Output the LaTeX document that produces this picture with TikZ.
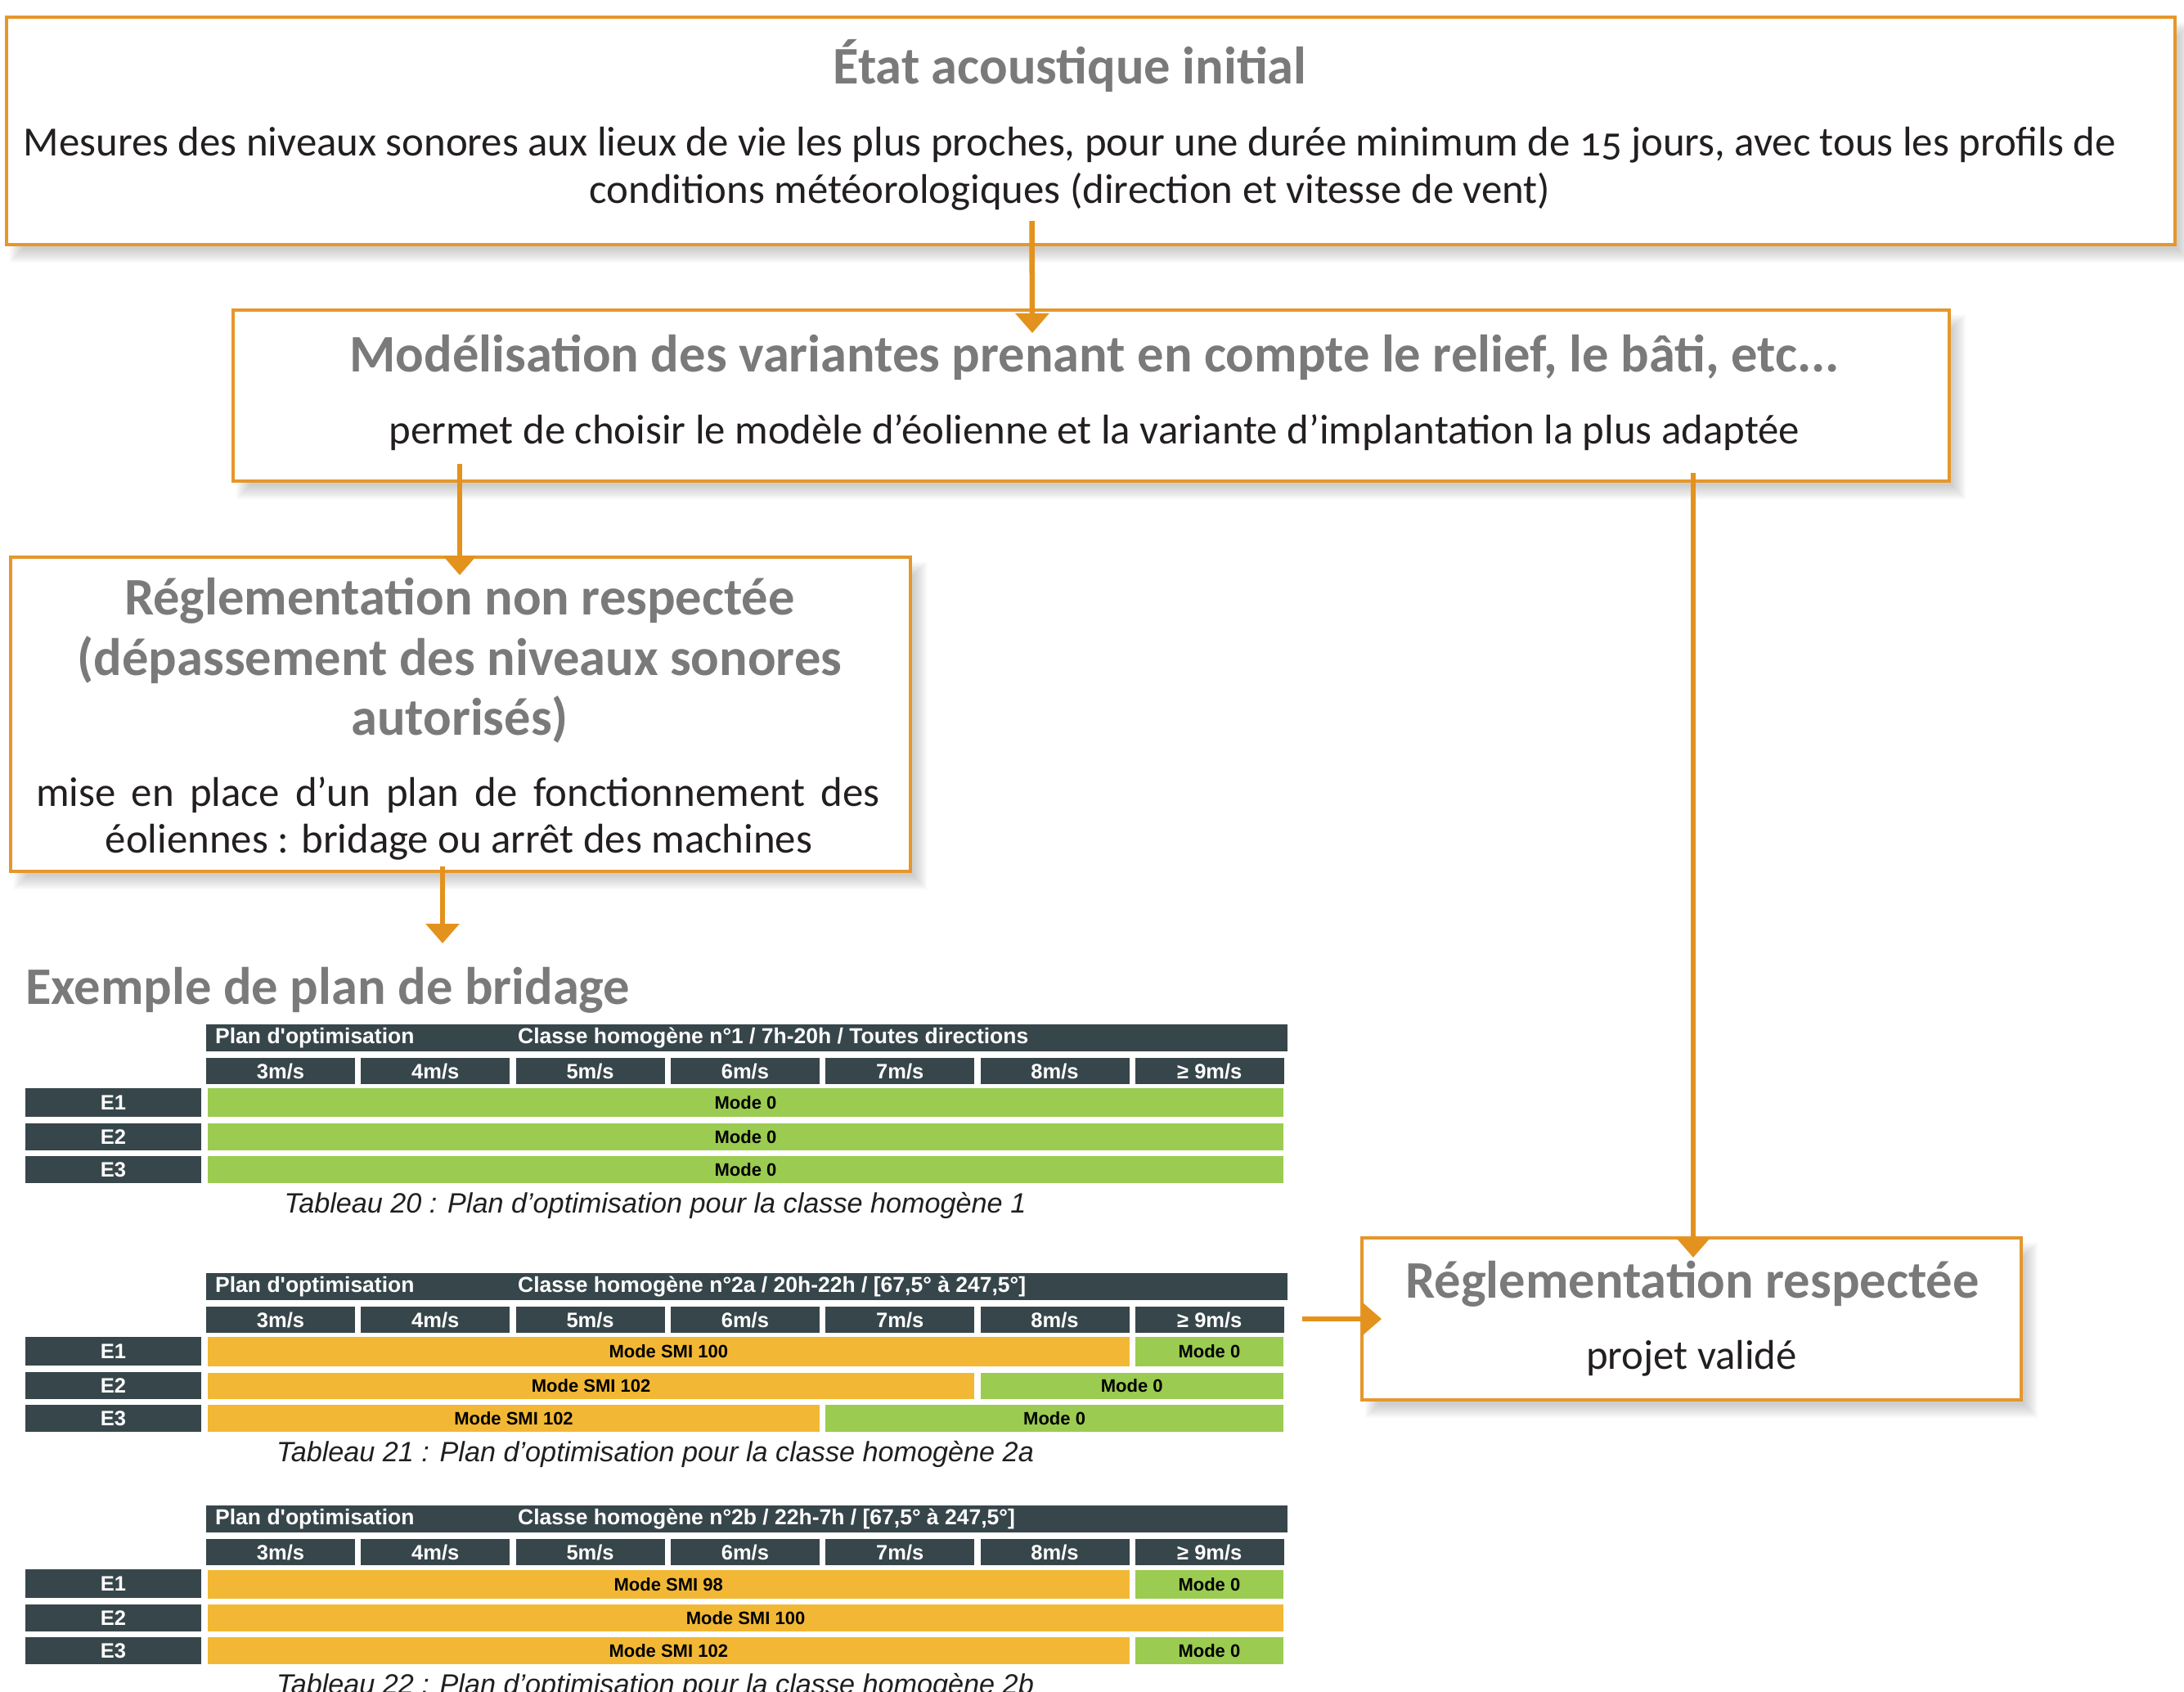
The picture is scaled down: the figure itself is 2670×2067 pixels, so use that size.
\documentclass[tikz,border=0pt]{standalone}
\usepackage{fontspec}
\setmainfont{Carlito}
\newfontfamily\arialf{Liberation Sans}
\usetikzlibrary{arrows.meta,backgrounds,calc}
\definecolor{borange}{HTML}{E5972C}
\definecolor{aorange}{HTML}{E3921E}
\definecolor{tgray}{HTML}{7A7A7A}
\definecolor{btext}{HTML}{231F20}
\definecolor{slate}{HTML}{37464A}
\definecolor{mgreen}{HTML}{9BCB50}
\definecolor{morange}{HTML}{F2B835}

\newcommand\rnode[6]{\node[#1, rectangle, inner sep=0pt, outer sep=0pt, anchor=north west, minimum width={((#4)-(#2))*1pt}, minimum height={((#5)-(#3))*1pt}] (#6) at (#2,#3)}

\newcommand\softshadow[1]{%
 \begin{scope}[on background layer]
 \foreach \k in {-8,-6,...,8}{
  \fill[black, opacity=0.022] ($(#1.north west)+(12+\k,14+\k)$) rectangle ($(#1.south east)+(12-\k,14-\k)$);
 }
 \end{scope}}

\tikzset{
  box/.style={draw=borange, line width=3.5pt, fill=white},
  arr/.style={draw=aorange, line width=6.5pt, -{Triangle[width=40pt,length=24pt]}},
  ttl/.style={text=tgray, inner sep=0pt, font=\fontsize{64.5}{76}\selectfont\bfseries},
  bdy/.style={text=btext, inner sep=0pt, font=\fontsize{50.8}{60}\selectfont},
  slatec/.style={fill=slate, text=white, font=\arialf\bfseries\fontsize{25.5}{30}\selectfont},
  hdrt/.style={text=white, inner sep=0pt, font=\arialf\bfseries\fontsize{26.5}{30}\selectfont},
  greenc/.style={fill=mgreen, text=black, font=\arialf\bfseries\fontsize{22}{26}\selectfont},
  orangec/.style={fill=morange, text=black, font=\arialf\bfseries\fontsize{22}{26}\selectfont},
  capt/.style={inner sep=0pt, text=black!88, font=\arialf\itshape\fontsize{34.2}{40}\selectfont}
}

\newcommand\btable[4]{%
 \rnode{slatec}{252}{#2}{1574}{#2+33}{#1h}{};
 \node[hdrt, anchor=west] (#1hp) at ([xshift=11pt]#1h.west) {Plan d'optimisation};
 \node[hdrt, anchor=west] (#1hc) at ([xshift=381pt]#1h.west) {#3};
 \foreach \i/\spd in {0/3,1/4,2/5,3/6,4/7,5/8}{
   \rnode{slatec}{252+189.3*\i}{#2+41}{252+189.3*\i+182}{#2+73}{#1s\i}{\spd m/s};
 }
 \rnode{slatec}{252+189.3*6}{#2+41}{252+189.3*6+182}{#2+73}{#1s6}{≥ 9m/s};
 \rnode{slatec}{31}{#2+78}{246}{#2+113}{#1e1}{E1};
 \rnode{slatec}{31}{#2+121}{246}{#2+154}{#1e2}{E2};
 \rnode{slatec}{31}{#2+161}{246}{#2+194}{#1e3}{E3};
 \node[capt] (#1cap) at (801,#2+221) {#4};
}

\begin{document}
\begin{tikzpicture}[x=1pt,y=-1pt]
\useasboundingbox (0,0) rectangle (2670,2067);

% boxes
\rnode{box}{8}{21}{2659}{299}{b1}{};
\rnode{box}{285}{379}{2383}{588}{b2}{};
\rnode{box}{13}{681}{1113}{1065}{b3}{};
\rnode{box}{1665}{1513}{2471}{1711}{b5}{};
\softshadow{b1}
\softshadow{b2}
\softshadow{b3}
\softshadow{b5}

% texts
\node[ttl, anchor=base] (b1t) at (1308,102) {État acoustique initial};
\node[bdy, anchor=base] (b1a) at (1308,190) {Mesures des niveaux sonores aux lieux de vie les plus proches, pour une durée minimum de {\addfontfeature{Numbers=OldStyle}15} jours, avec tous les profils de};
\node[bdy, anchor=base] (b1b) at (1308,248) {conditions météorologiques (direction et vitesse de vent)};
\node[ttl, anchor=base] (b2t) at (1338,454) {Modélisation des variantes prenant en compte le relief, le bâti, etc...};
\node[bdy, anchor=base] (b2a) at (1338,542) {permet de choisir le modèle d’éolienne et la variante d’implantation la plus adaptée};
\node[ttl, anchor=base] (b3t1) at (562,751) {Réglementation non respectée};
\node[ttl, anchor=base] (b3t2) at (562,825) {(dépassement des niveaux sonores};
\node[ttl, anchor=base] (b3t3) at (562,898) {autorisés)};
\node[bdy, anchor=base] (b3a) at (560,985) {\makebox[1032pt][s]{mise en place d’un plan de fonctionnement des}};
\node[bdy, anchor=base] (b3b) at (561,1042) {éoliennes : bridage ou arrêt des machines};
\node[ttl, anchor=base] (b5t) at (2069,1586) {Réglementation respectée};
\node[bdy, anchor=base] (b5a) at (2068,1673) {projet validé};
\node[ttl, anchor=base west] (ex) at (31,1227) {Exemple de plan de bridage};

% arrows
\draw[arr] ([xshift=-72pt,yshift=29pt]b1.south) -- ([xshift=-72pt,yshift=-28pt]b2.north);
\draw[arr] ([xshift=-772pt,yshift=21pt]b2.south) -- ([xshift=-1pt,yshift=-22pt]b3.north);
\draw[arr] ([xshift=-22pt,yshift=6pt]b3.south) -- ([xshift=-22pt,yshift=-88pt]b3.south);
\draw[arr] ([xshift=736pt,yshift=10pt]b2.south) -- ([xshift=2pt,yshift=-24pt]b5.north);
\draw[arr] ([xshift=-73pt]b5.west) -- ([xshift=24pt]b5.west);

% table 1
\btable{ta}{1252}{Classe homogène n°1 / 7h-20h / Toutes directions}{Tableau 20 : Plan d’optimisation pour la classe homogène 1}
\rnode{greenc}{254}{1330}{1569}{1365}{ta1}{Mode 0};
\rnode{greenc}{254}{1373}{1569}{1406}{ta2}{Mode 0};
\rnode{greenc}{254}{1413}{1569}{1446}{ta3}{Mode 0};

% table 2
\btable{tb}{1556}{Classe homogène n°2a / 20h-22h / [67,5° à 247,5°]}{Tableau 21 : Plan d’optimisation pour la classe homogène 2a}
\rnode{orangec}{254}{1634}{1380.5}{1670}{tb1o}{Mode SMI 100};
\rnode{greenc}{1387.8}{1634}{1569}{1670}{tb1g}{Mode 0};
\rnode{orangec}{254}{1678}{1191.2}{1710}{tb2o}{Mode SMI 102};
\rnode{greenc}{1198.5}{1678}{1569}{1710}{tb2g}{Mode 0};
\rnode{orangec}{254}{1717}{1002}{1750}{tb3o}{Mode SMI 102};
\rnode{greenc}{1009.2}{1717}{1569}{1750}{tb3g}{Mode 0};

% table 3
\btable{tc}{1840}{Classe homogène n°2b / 22h-7h / [67,5° à 247,5°]}{Tableau 22 : Plan d’optimisation pour la classe homogène 2b}
\rnode{orangec}{254}{1919}{1380.5}{1954}{tc1o}{Mode SMI 98};
\rnode{greenc}{1387.8}{1919}{1569}{1954}{tc1g}{Mode 0};
\rnode{orangec}{254}{1961}{1569}{1994}{tc2o}{Mode SMI 100};
\rnode{orangec}{254}{2001}{1380.5}{2034}{tc3o}{Mode SMI 102};
\rnode{greenc}{1387.8}{2001}{1569}{2034}{tc3g}{Mode 0};
\end{tikzpicture}
\end{document}
